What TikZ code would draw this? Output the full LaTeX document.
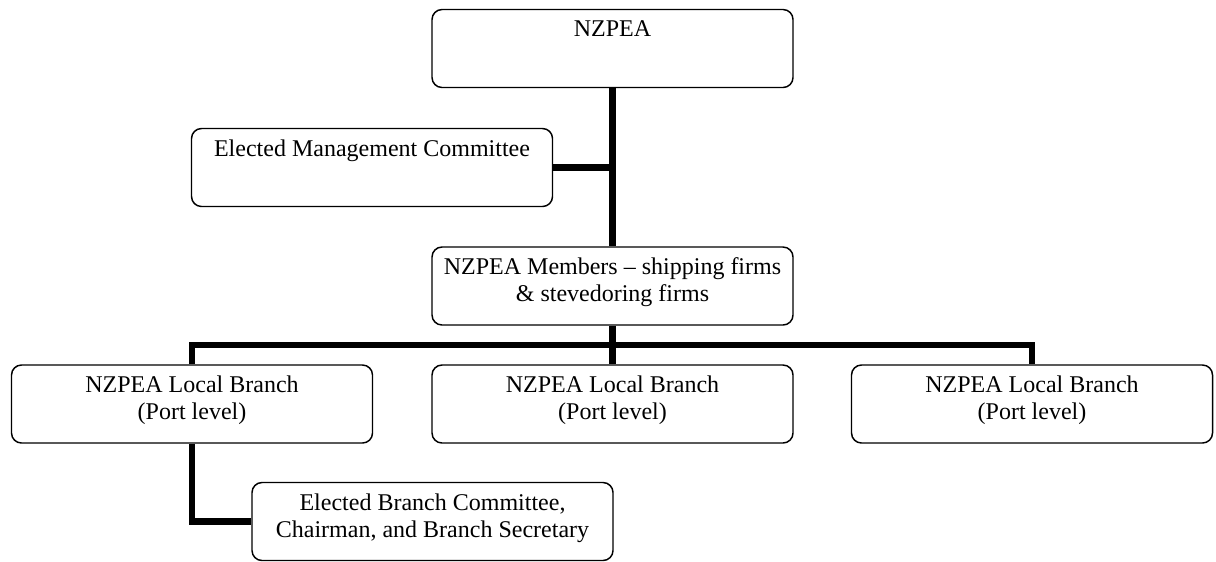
\documentclass[tikz,border=0pt]{standalone}
\usepackage{fontspec}
\setmainfont{Liberation Serif}
\usetikzlibrary{calc}
\tikzset{
  orgbox/.style={draw,line width=1.1pt,rounded corners=7.5pt,fill=white,
    minimum width=270.75pt,minimum height=58.5pt,inner sep=0pt},
  boxtext/.style={anchor=north,inner sep=0pt,yshift=-8.5pt,align=center,
    font=\fontsize{18}{20.3}\selectfont},
  link/.style={line width=5pt}
}
\begin{document}
\begin{tikzpicture}[x=0.75pt,y=-0.75pt]
\useasboundingbox (0,0) rectangle (1216,561);
% boxes
\node[orgbox,label={[boxtext]north:NZPEA}] (nzpea) at (612.5,48.5) {};
\node[orgbox,label={[boxtext]north:Elected Management Committee}] (mgmt) at (372,167.5) {};
\node[orgbox,label={[boxtext]north:NZPEA Members -- shipping firms\\\& stevedoring firms}] (members) at (612.5,286) {};
\node[orgbox,label={[boxtext]north:NZPEA Local Branch\\(Port level)}] (branchA) at (192,404) {};
\node[orgbox,label={[boxtext]north:NZPEA Local Branch\\(Port level)}] (branchB) at (612.5,404) {};
\node[orgbox,label={[boxtext]north:NZPEA Local Branch\\(Port level)}] (branchC) at (1032,404) {};
\node[orgbox,label={[boxtext]north:Elected Branch Committee,\\Chairman, and Branch Secretary}] (branchcom) at (432.5,521.5) {};
% connectors
\coordinate (bus) at ($(members.south)!0.5!(branchB.north)$);
\draw[link] (nzpea.south) -- (members.north);
\draw[link] (mgmt.east) -- (mgmt.east -| nzpea.south);
\draw[link] (members.south) -- (branchB.north);
\draw[link] (branchA.north) |- (bus) -| (branchC.north);
\draw[link] (branchA.south) |- (branchcom.west);
\end{tikzpicture}
\end{document}
